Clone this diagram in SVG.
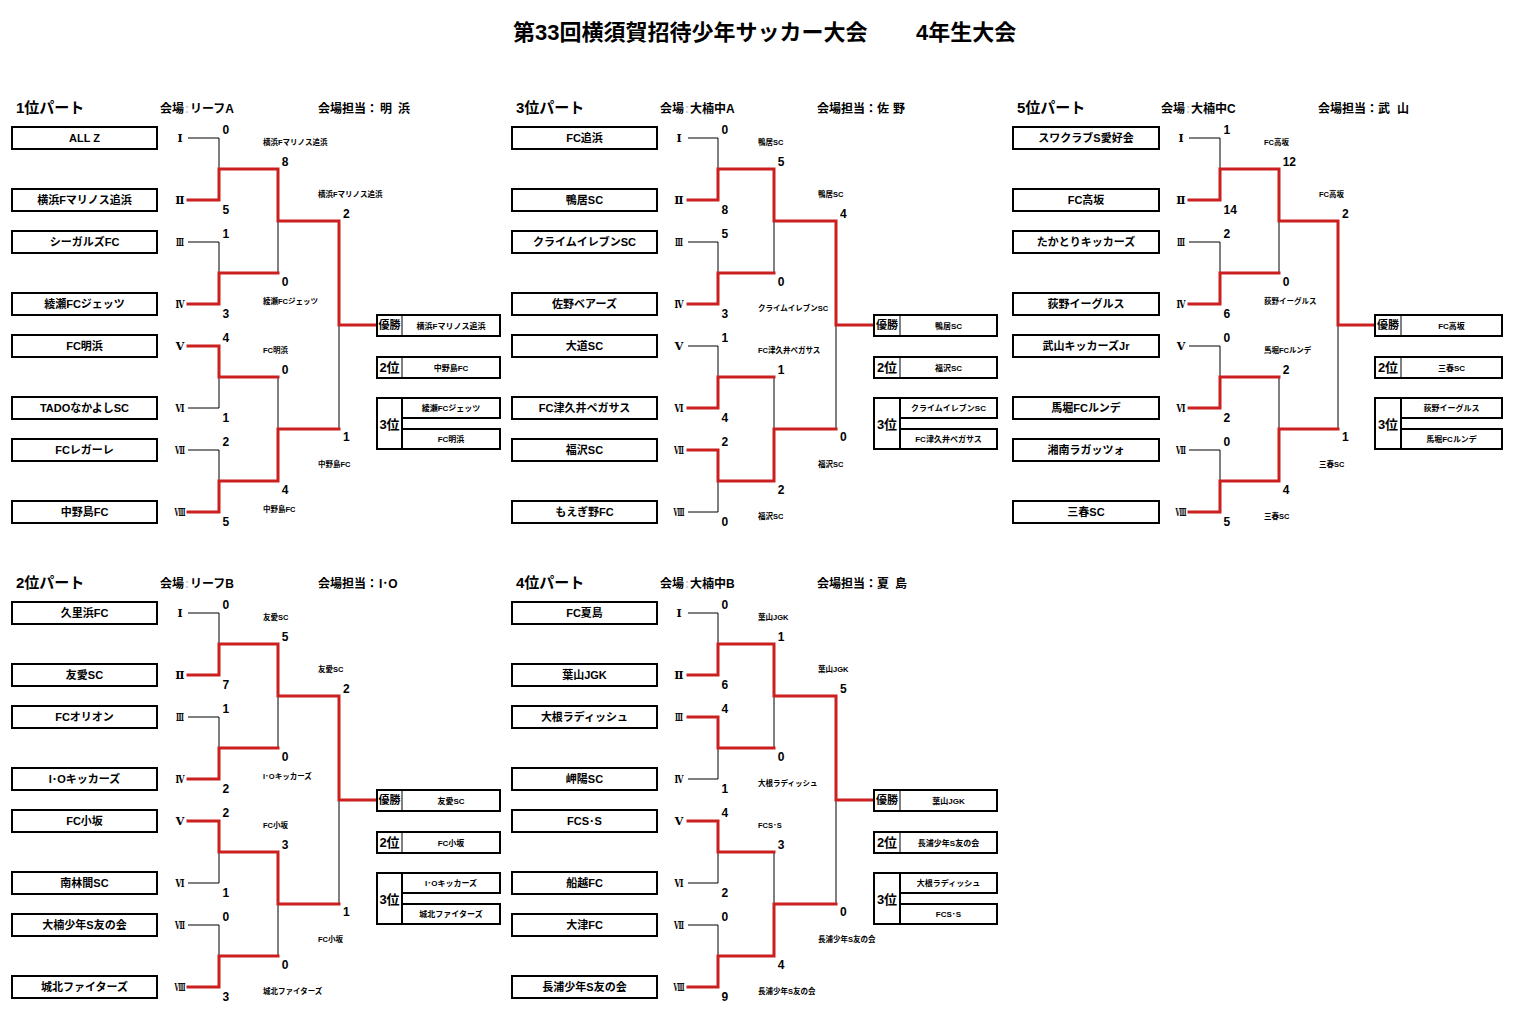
<svg xmlns="http://www.w3.org/2000/svg" width="1518" height="1028" viewBox="0 0 1518 1028">
<style>
text{font-family:"Liberation Sans","Noto Sans CJK JP",sans-serif;font-weight:bold;fill:#000}
.title{font-size:22px}
.hd{font-size:15px}
.meta{font-size:12px}
.faint{font-size:12px;fill:#c8c8c8}
.box{fill:#fff;stroke:#000;stroke-width:2}
.tn{font-size:11px;text-anchor:middle}
.rn{font-family:"DejaVu Serif","Noto Sans CJK JP",serif;font-size:11px;text-anchor:middle}
.sc{font-size:12px}
.sm{font-size:7.5px}
.rl{font-size:11px;text-anchor:middle}
.rk{font-size:13px;text-anchor:middle}
.rt{font-size:8px;text-anchor:middle}
.red{fill:none;stroke:#cc1f1f;stroke-width:3;stroke-linecap:square}
.blk{fill:none;stroke:#000;stroke-width:1}
</style>
<rect width="1518" height="1028" fill="#fff"/>
<g id="title">
<text class="title" x="513" y="40">第33回横須賀招待少年サッカー大会</text>
<text class="title" x="916" y="40">4年生大会</text>
</g>

<g id="connectors">
<g transform="translate(0,0)">
<path class="blk" d="M188 138H219V169M188 242H219V273M188 408H219V377M188 450H219V481M278 273V221M278 377V429M339 429V325"/>
<path class="red" d="M188 200H219V169H278V221H339V325H377M188 304H219V273H278M188 346H219V377H278M188 512H219V481H278V429H339"/>
</g>
<g transform="translate(500,0)">
<path class="blk" d="M188 138H218V169M188 242H218V273M188 346H218V377M188 512H218V481M274 273V221M274 377V429M336 429V325"/>
<path class="red" d="M188 200H218V169H274V221H336V325H374M188 304H218V273H274M188 408H218V377H274M188 450H218V481H274V429H336"/>
</g>
<g transform="translate(1001,0)">
<path class="blk" d="M188 138H219V169M188 242H219V273M188 346H219V377M188 450H219V481M278 273V221M278 377V429M337 429V325"/>
<path class="red" d="M188 200H219V169H278V221H337V325H374M188 304H219V273H278M188 408H219V377H278M188 512H219V481H278V429H337"/>
</g>
<g transform="translate(0,475)">
<path class="blk" d="M188 138H219V169M188 242H219V273M188 408H219V377M188 450H219V481M278 273V221M278 481V429M339 429V325"/>
<path class="red" d="M188 200H219V169H278V221H339V325H377M188 304H219V273H278M188 346H219V377H278V429H339M188 512H219V481H278"/>
</g>
<g transform="translate(500,475)">
<path class="blk" d="M188 138H218V169M188 304H218V273M188 408H218V377M188 450H218V481M274 273V221M274 377V429M336 429V325"/>
<path class="red" d="M188 200H218V169H274V221H336V325H374M188 242H218V273H274M188 346H218V377H274M188 512H218V481H274V429H336"/>
</g>
</g>

<!-- Part 1 -->
<g id="part1" transform="translate(0,0)">
<g id="p1-header">
<text class="hd" x="16" y="113">1位パート</text>
<text class="meta" x="160" y="113">会場</text><text class="faint" x="185" y="113">:</text><text class="meta" x="190" y="113">リーフA</text>
<text class="meta" x="318" y="113">会場担当：</text><text class="meta" x="380" y="113">明</text><text class="meta" x="398" y="113">浜</text>
</g>
<g id="p1-t1"><rect class="box" x="12" y="127" width="145" height="22"/><text class="tn" x="84.5" y="142">ALL Z</text><text class="rn" x="180" y="142">Ⅰ</text></g>
<g id="p1-t2"><rect class="box" x="12" y="189" width="145" height="22"/><text class="tn" x="84.5" y="204">横浜Fマリノス追浜</text><text class="rn" x="180" y="204">Ⅱ</text></g>
<g id="p1-t3"><rect class="box" x="12" y="231" width="145" height="22"/><text class="tn" x="84.5" y="246">シーガルズFC</text><text class="rn" x="180" y="246" textLength="8" lengthAdjust="spacingAndGlyphs">Ⅲ</text></g>
<g id="p1-t4"><rect class="box" x="12" y="293" width="145" height="22"/><text class="tn" x="84.5" y="308">綾瀬FCジェッツ</text><text class="rn" x="180" y="308" textLength="9" lengthAdjust="spacingAndGlyphs">Ⅳ</text></g>
<g id="p1-t5"><rect class="box" x="12" y="335" width="145" height="22"/><text class="tn" x="84.5" y="350">FC明浜</text><text class="rn" x="180" y="350">Ⅴ</text></g>
<g id="p1-t6"><rect class="box" x="12" y="397" width="145" height="22"/><text class="tn" x="84.5" y="412">TADOなかよしSC</text><text class="rn" x="180" y="412" textLength="9" lengthAdjust="spacingAndGlyphs">Ⅵ</text></g>
<g id="p1-t7"><rect class="box" x="12" y="439" width="145" height="22"/><text class="tn" x="84.5" y="454">FCレガーレ</text><text class="rn" x="180" y="454" textLength="10" lengthAdjust="spacingAndGlyphs">Ⅶ</text></g>
<g id="p1-t8"><rect class="box" x="12" y="501" width="145" height="22"/><text class="tn" x="84.5" y="516">中野島FC</text><text class="rn" x="180" y="516" textLength="11" lengthAdjust="spacingAndGlyphs">Ⅷ</text></g>
<g id="p1-scores">
<text class="sc" x="222.5" y="134">0</text><text class="sc" x="222.5" y="214">5</text>
<text class="sc" x="222.5" y="238">1</text><text class="sc" x="222.5" y="318">3</text>
<text class="sc" x="222.5" y="342">4</text><text class="sc" x="222.5" y="422">1</text>
<text class="sc" x="222.5" y="446">2</text><text class="sc" x="222.5" y="526">5</text>
<text class="sc" x="281.7" y="165.5">8</text><text class="sc" x="281.7" y="286">0</text>
<text class="sc" x="281.7" y="373.5">0</text><text class="sc" x="281.7" y="494">4</text>
<text class="sc" x="343" y="218">2</text><text class="sc" x="343" y="441">1</text>
<text class="sm" x="263" y="145">横浜Fマリノス追浜</text>
<text class="sm" x="263" y="303.5">綾瀬FCジェッツ</text>
<text class="sm" x="263" y="353">FC明浜</text>
<text class="sm" x="263" y="512">中野島FC</text>
<text class="sm" x="318" y="197">横浜Fマリノス追浜</text>
<text class="sm" x="318" y="467">中野島FC</text>
</g>
<g id="p1-first"><rect class="box" x="377" y="315" width="123" height="21"/><path class="blk" stroke-width="2" d="M402 315V336"/><text class="rl" x="389.5" y="329">優勝</text><text class="rt" x="451" y="328.5">横浜Fマリノス追浜</text></g>
<g id="p1-second"><rect class="box" x="377" y="357" width="123" height="21"/><path class="blk" stroke-width="2" d="M402 357V378"/><text class="rk" x="389.5" y="372">2位</text><text class="rt" x="451" y="370.5">中野島FC</text></g>
<g id="p1-third"><rect class="box" x="377" y="398" width="25" height="51"/><rect class="box" x="402" y="398" width="98" height="20"/><rect class="box" x="402" y="429" width="98" height="20"/><text class="rk" x="389.5" y="429">3位</text><text class="rt" x="451" y="411">綾瀬FCジェッツ</text><text class="rt" x="451" y="442">FC明浜</text></g>
</g>

<!-- Part 3 -->
<g id="part3" transform="translate(500,0)">
<g id="p3-header">
<text class="hd" x="16" y="113">3位パート</text>
<text class="meta" x="160" y="113">会場</text><text class="faint" x="185" y="113">:</text><text class="meta" x="190" y="113">大楠中A</text>
<text class="meta" x="317" y="113">会場担当：</text><text class="meta" x="377" y="113">佐</text><text class="meta" x="393" y="113">野</text>
</g>
<g id="p3-t1"><rect class="box" x="12" y="127" width="145" height="22"/><text class="tn" x="84.5" y="142">FC追浜</text><text class="rn" x="179" y="142">Ⅰ</text></g>
<g id="p3-t2"><rect class="box" x="12" y="189" width="145" height="22"/><text class="tn" x="84.5" y="204">鴨居SC</text><text class="rn" x="179" y="204">Ⅱ</text></g>
<g id="p3-t3"><rect class="box" x="12" y="231" width="145" height="22"/><text class="tn" x="84.5" y="246">クライムイレブンSC</text><text class="rn" x="179" y="246" textLength="8" lengthAdjust="spacingAndGlyphs">Ⅲ</text></g>
<g id="p3-t4"><rect class="box" x="12" y="293" width="145" height="22"/><text class="tn" x="84.5" y="308">佐野ベアーズ</text><text class="rn" x="179" y="308" textLength="9" lengthAdjust="spacingAndGlyphs">Ⅳ</text></g>
<g id="p3-t5"><rect class="box" x="12" y="335" width="145" height="22"/><text class="tn" x="84.5" y="350">大道SC</text><text class="rn" x="179" y="350">Ⅴ</text></g>
<g id="p3-t6"><rect class="box" x="12" y="397" width="145" height="22"/><text class="tn" x="84.5" y="412">FC津久井ペガサス</text><text class="rn" x="179" y="412" textLength="9" lengthAdjust="spacingAndGlyphs">Ⅵ</text></g>
<g id="p3-t7"><rect class="box" x="12" y="439" width="145" height="22"/><text class="tn" x="84.5" y="454">福沢SC</text><text class="rn" x="179" y="454" textLength="10" lengthAdjust="spacingAndGlyphs">Ⅶ</text></g>
<g id="p3-t8"><rect class="box" x="12" y="501" width="145" height="22"/><text class="tn" x="84.5" y="516">もえぎ野FC</text><text class="rn" x="179" y="516" textLength="11" lengthAdjust="spacingAndGlyphs">Ⅷ</text></g>
<g id="p3-scores">
<text class="sc" x="221.5" y="134">0</text><text class="sc" x="221.5" y="214">8</text>
<text class="sc" x="221.5" y="238">5</text><text class="sc" x="221.5" y="318">3</text>
<text class="sc" x="221.5" y="342">1</text><text class="sc" x="221.5" y="422">4</text>
<text class="sc" x="221.5" y="446">2</text><text class="sc" x="221.5" y="526">0</text>
<text class="sc" x="277.7" y="165.5">5</text><text class="sc" x="277.7" y="286">0</text>
<text class="sc" x="277.7" y="373.5">1</text><text class="sc" x="277.7" y="494">2</text>
<text class="sc" x="340" y="218">4</text><text class="sc" x="340" y="441">0</text>
<text class="sm" x="258" y="145">鴨居SC</text>
<text class="sm" x="258" y="311">クライムイレブンSC</text>
<text class="sm" x="258" y="353">FC津久井ペガサス</text>
<text class="sm" x="258" y="519">福沢SC</text>
<text class="sm" x="318" y="197">鴨居SC</text>
<text class="sm" x="318" y="467">福沢SC</text>
</g>
<g id="p3-first"><rect class="box" x="374" y="315" width="123" height="21"/><path class="blk" stroke-width="2" d="M400 315V336"/><text class="rl" x="387" y="329">優勝</text><text class="rt" x="448.5" y="328.5">鴨居SC</text></g>
<g id="p3-second"><rect class="box" x="374" y="357" width="123" height="21"/><path class="blk" stroke-width="2" d="M400 357V378"/><text class="rk" x="387" y="372">2位</text><text class="rt" x="448.5" y="370.5">福沢SC</text></g>
<g id="p3-third"><rect class="box" x="374" y="398" width="26" height="51"/><rect class="box" x="400" y="398" width="97" height="20"/><rect class="box" x="400" y="429" width="97" height="20"/><text class="rk" x="387" y="429">3位</text><text class="rt" x="448.5" y="411">クライムイレブンSC</text><text class="rt" x="448.5" y="442">FC津久井ペガサス</text></g>
</g>

<!-- Part 5 -->
<g id="part5" transform="translate(1001,0)">
<g id="p5-header">
<text class="hd" x="16" y="113">5位パート</text>
<text class="meta" x="160" y="113">会場</text><text class="faint" x="185" y="113">:</text><text class="meta" x="190" y="113">大楠中C</text>
<text class="meta" x="317" y="113">会場担当：</text><text class="meta" x="377" y="113">武</text><text class="meta" x="396" y="113">山</text>
</g>
<g id="p5-t1"><rect class="box" x="12" y="127" width="146" height="22"/><text class="tn" x="85" y="142">スワクラブS愛好会</text><text class="rn" x="180" y="142">Ⅰ</text></g>
<g id="p5-t2"><rect class="box" x="12" y="189" width="146" height="22"/><text class="tn" x="85" y="204">FC高坂</text><text class="rn" x="180" y="204">Ⅱ</text></g>
<g id="p5-t3"><rect class="box" x="12" y="231" width="146" height="22"/><text class="tn" x="85" y="246">たかとりキッカーズ</text><text class="rn" x="180" y="246" textLength="8" lengthAdjust="spacingAndGlyphs">Ⅲ</text></g>
<g id="p5-t4"><rect class="box" x="12" y="293" width="146" height="22"/><text class="tn" x="85" y="308">荻野イーグルス</text><text class="rn" x="180" y="308" textLength="9" lengthAdjust="spacingAndGlyphs">Ⅳ</text></g>
<g id="p5-t5"><rect class="box" x="12" y="335" width="146" height="22"/><text class="tn" x="85" y="350">武山キッカーズJr</text><text class="rn" x="180" y="350">Ⅴ</text></g>
<g id="p5-t6"><rect class="box" x="12" y="397" width="146" height="22"/><text class="tn" x="85" y="412">馬堀FCルンデ</text><text class="rn" x="180" y="412" textLength="9" lengthAdjust="spacingAndGlyphs">Ⅵ</text></g>
<g id="p5-t7"><rect class="box" x="12" y="439" width="146" height="22"/><text class="tn" x="85" y="454">湘南ラガッツォ</text><text class="rn" x="180" y="454" textLength="10" lengthAdjust="spacingAndGlyphs">Ⅶ</text></g>
<g id="p5-t8"><rect class="box" x="12" y="501" width="146" height="22"/><text class="tn" x="85" y="516">三春SC</text><text class="rn" x="180" y="516" textLength="11" lengthAdjust="spacingAndGlyphs">Ⅷ</text></g>
<g id="p5-scores">
<text class="sc" x="222.5" y="134">1</text><text class="sc" x="222.5" y="214">14</text>
<text class="sc" x="222.5" y="238">2</text><text class="sc" x="222.5" y="318">6</text>
<text class="sc" x="222.5" y="342">0</text><text class="sc" x="222.5" y="422">2</text>
<text class="sc" x="222.5" y="446">0</text><text class="sc" x="222.5" y="526">5</text>
<text class="sc" x="281.7" y="165.5">12</text><text class="sc" x="281.7" y="286">0</text>
<text class="sc" x="281.7" y="373.5">2</text><text class="sc" x="281.7" y="494">4</text>
<text class="sc" x="341" y="218">2</text><text class="sc" x="341" y="441">1</text>
<text class="sm" x="263" y="145">FC高坂</text>
<text class="sm" x="263" y="303.5">荻野イーグルス</text>
<text class="sm" x="263" y="353">馬堀FCルンデ</text>
<text class="sm" x="263" y="519">三春SC</text>
<text class="sm" x="318" y="197">FC高坂</text>
<text class="sm" x="318" y="467">三春SC</text>
</g>
<g id="p5-first"><rect class="box" x="374" y="315" width="127" height="21"/><path class="blk" stroke-width="2" d="M400 315V336"/><text class="rl" x="387" y="329">優勝</text><text class="rt" x="450.5" y="328.5">FC高坂</text></g>
<g id="p5-second"><rect class="box" x="374" y="357" width="127" height="21"/><path class="blk" stroke-width="2" d="M400 357V378"/><text class="rk" x="387" y="372">2位</text><text class="rt" x="450.5" y="370.5">三春SC</text></g>
<g id="p5-third"><rect class="box" x="374" y="398" width="26" height="51"/><rect class="box" x="400" y="398" width="101" height="20"/><rect class="box" x="400" y="429" width="101" height="20"/><text class="rk" x="387" y="429">3位</text><text class="rt" x="450.5" y="411">荻野イーグルス</text><text class="rt" x="450.5" y="442">馬堀FCルンデ</text></g>
</g>

<!-- Part 2 -->
<g id="part2" transform="translate(0,475)">
<g id="p2-header">
<text class="hd" x="16" y="113">2位パート</text>
<text class="meta" x="160" y="113">会場</text><text class="faint" x="185" y="113">:</text><text class="meta" x="190" y="113">リーフB</text>
<text class="meta" x="318" y="113">会場担当：</text><text class="meta" x="379" y="113">I･O</text>
</g>
<g id="p2-t1"><rect class="box" x="12" y="127" width="145" height="22"/><text class="tn" x="84.5" y="142">久里浜FC</text><text class="rn" x="180" y="142">Ⅰ</text></g>
<g id="p2-t2"><rect class="box" x="12" y="189" width="145" height="22"/><text class="tn" x="84.5" y="204">友愛SC</text><text class="rn" x="180" y="204">Ⅱ</text></g>
<g id="p2-t3"><rect class="box" x="12" y="231" width="145" height="22"/><text class="tn" x="84.5" y="246">FCオリオン</text><text class="rn" x="180" y="246" textLength="8" lengthAdjust="spacingAndGlyphs">Ⅲ</text></g>
<g id="p2-t4"><rect class="box" x="12" y="293" width="145" height="22"/><text class="tn" x="84.5" y="308">I･Oキッカーズ</text><text class="rn" x="180" y="308" textLength="9" lengthAdjust="spacingAndGlyphs">Ⅳ</text></g>
<g id="p2-t5"><rect class="box" x="12" y="335" width="145" height="22"/><text class="tn" x="84.5" y="350">FC小坂</text><text class="rn" x="180" y="350">Ⅴ</text></g>
<g id="p2-t6"><rect class="box" x="12" y="397" width="145" height="22"/><text class="tn" x="84.5" y="412">南林間SC</text><text class="rn" x="180" y="412" textLength="9" lengthAdjust="spacingAndGlyphs">Ⅵ</text></g>
<g id="p2-t7"><rect class="box" x="12" y="439" width="145" height="22"/><text class="tn" x="84.5" y="454">大楠少年S友の会</text><text class="rn" x="180" y="454" textLength="10" lengthAdjust="spacingAndGlyphs">Ⅶ</text></g>
<g id="p2-t8"><rect class="box" x="12" y="501" width="145" height="22"/><text class="tn" x="84.5" y="516">城北ファイターズ</text><text class="rn" x="180" y="516" textLength="11" lengthAdjust="spacingAndGlyphs">Ⅷ</text></g>
<g id="p2-scores">
<text class="sc" x="222.5" y="134">0</text><text class="sc" x="222.5" y="214">7</text>
<text class="sc" x="222.5" y="238">1</text><text class="sc" x="222.5" y="318">2</text>
<text class="sc" x="222.5" y="342">2</text><text class="sc" x="222.5" y="422">1</text>
<text class="sc" x="222.5" y="446">0</text><text class="sc" x="222.5" y="526">3</text>
<text class="sc" x="281.7" y="165.5">5</text><text class="sc" x="281.7" y="286">0</text>
<text class="sc" x="281.7" y="373.5">3</text><text class="sc" x="281.7" y="494">0</text>
<text class="sc" x="343" y="218">2</text><text class="sc" x="343" y="441">1</text>
<text class="sm" x="263" y="145">友愛SC</text>
<text class="sm" x="263" y="303.5">I･Oキッカーズ</text>
<text class="sm" x="263" y="353">FC小坂</text>
<text class="sm" x="263" y="519">城北ファイターズ</text>
<text class="sm" x="318" y="197">友愛SC</text>
<text class="sm" x="318" y="467">FC小坂</text>
</g>
<g id="p2-first"><rect class="box" x="377" y="315" width="123" height="21"/><path class="blk" stroke-width="2" d="M402 315V336"/><text class="rl" x="389.5" y="329">優勝</text><text class="rt" x="451" y="328.5">友愛SC</text></g>
<g id="p2-second"><rect class="box" x="377" y="357" width="123" height="21"/><path class="blk" stroke-width="2" d="M402 357V378"/><text class="rk" x="389.5" y="372">2位</text><text class="rt" x="451" y="370.5">FC小坂</text></g>
<g id="p2-third"><rect class="box" x="377" y="398" width="25" height="51"/><rect class="box" x="402" y="398" width="98" height="20"/><rect class="box" x="402" y="429" width="98" height="20"/><text class="rk" x="389.5" y="429">3位</text><text class="rt" x="451" y="411">I･Oキッカーズ</text><text class="rt" x="451" y="442">城北ファイターズ</text></g>
</g>

<!-- Part 4 -->
<g id="part4" transform="translate(500,475)">
<g id="p4-header">
<text class="hd" x="16" y="113">4位パート</text>
<text class="meta" x="160" y="113">会場</text><text class="faint" x="185" y="113">:</text><text class="meta" x="190" y="113">大楠中B</text>
<text class="meta" x="317" y="113">会場担当：</text><text class="meta" x="377" y="113">夏</text><text class="meta" x="395" y="113">島</text>
</g>
<g id="p4-t1"><rect class="box" x="12" y="127" width="145" height="22"/><text class="tn" x="84.5" y="142">FC夏島</text><text class="rn" x="179" y="142">Ⅰ</text></g>
<g id="p4-t2"><rect class="box" x="12" y="189" width="145" height="22"/><text class="tn" x="84.5" y="204">葉山JGK</text><text class="rn" x="179" y="204">Ⅱ</text></g>
<g id="p4-t3"><rect class="box" x="12" y="231" width="145" height="22"/><text class="tn" x="84.5" y="246">大根ラディッシュ</text><text class="rn" x="179" y="246" textLength="8" lengthAdjust="spacingAndGlyphs">Ⅲ</text></g>
<g id="p4-t4"><rect class="box" x="12" y="293" width="145" height="22"/><text class="tn" x="84.5" y="308">岬陽SC</text><text class="rn" x="179" y="308" textLength="9" lengthAdjust="spacingAndGlyphs">Ⅳ</text></g>
<g id="p4-t5"><rect class="box" x="12" y="335" width="145" height="22"/><text class="tn" x="84.5" y="350">FCS･S</text><text class="rn" x="179" y="350">Ⅴ</text></g>
<g id="p4-t6"><rect class="box" x="12" y="397" width="145" height="22"/><text class="tn" x="84.5" y="412">船越FC</text><text class="rn" x="179" y="412" textLength="9" lengthAdjust="spacingAndGlyphs">Ⅵ</text></g>
<g id="p4-t7"><rect class="box" x="12" y="439" width="145" height="22"/><text class="tn" x="84.5" y="454">大津FC</text><text class="rn" x="179" y="454" textLength="10" lengthAdjust="spacingAndGlyphs">Ⅶ</text></g>
<g id="p4-t8"><rect class="box" x="12" y="501" width="145" height="22"/><text class="tn" x="84.5" y="516">長浦少年S友の会</text><text class="rn" x="179" y="516" textLength="11" lengthAdjust="spacingAndGlyphs">Ⅷ</text></g>
<g id="p4-scores">
<text class="sc" x="221.5" y="134">0</text><text class="sc" x="221.5" y="214">6</text>
<text class="sc" x="221.5" y="238">4</text><text class="sc" x="221.5" y="318">1</text>
<text class="sc" x="221.5" y="342">4</text><text class="sc" x="221.5" y="422">2</text>
<text class="sc" x="221.5" y="446">0</text><text class="sc" x="221.5" y="526">9</text>
<text class="sc" x="277.7" y="165.5">1</text><text class="sc" x="277.7" y="286">0</text>
<text class="sc" x="277.7" y="373.5">3</text><text class="sc" x="277.7" y="494">4</text>
<text class="sc" x="340" y="218">5</text><text class="sc" x="340" y="441">0</text>
<text class="sm" x="258" y="145">葉山JGK</text>
<text class="sm" x="258" y="311">大根ラディッシュ</text>
<text class="sm" x="258" y="353">FCS･S</text>
<text class="sm" x="258" y="519">長浦少年S友の会</text>
<text class="sm" x="318" y="197">葉山JGK</text>
<text class="sm" x="318" y="467">長浦少年S友の会</text>
</g>
<g id="p4-first"><rect class="box" x="374" y="315" width="123" height="21"/><path class="blk" stroke-width="2" d="M400 315V336"/><text class="rl" x="387" y="329">優勝</text><text class="rt" x="448.5" y="328.5">葉山JGK</text></g>
<g id="p4-second"><rect class="box" x="374" y="357" width="123" height="21"/><path class="blk" stroke-width="2" d="M400 357V378"/><text class="rk" x="387" y="372">2位</text><text class="rt" x="448.5" y="370.5">長浦少年S友の会</text></g>
<g id="p4-third"><rect class="box" x="374" y="398" width="26" height="51"/><rect class="box" x="400" y="398" width="97" height="20"/><rect class="box" x="400" y="429" width="97" height="20"/><text class="rk" x="387" y="429">3位</text><text class="rt" x="448.5" y="411">大根ラディッシュ</text><text class="rt" x="448.5" y="442">FCS･S</text></g>
</g>
</svg>
